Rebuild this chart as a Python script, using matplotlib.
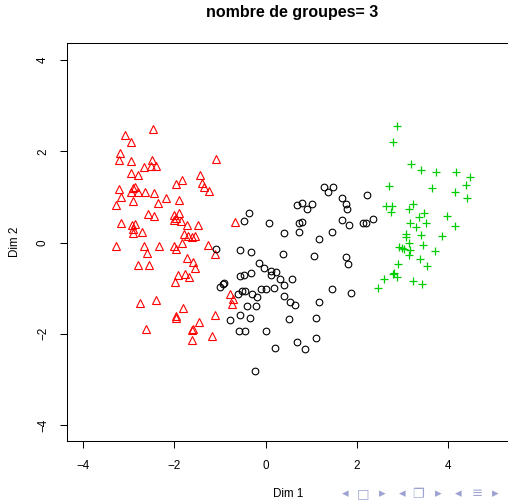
import matplotlib
matplotlib.use("Agg")
import matplotlib.pyplot as plt

plt.rcParams['font.family'] = ['Liberation Sans', 'DejaVu Sans']

# groupe 1 (triangles rouges)
g1_x = [-2.47, -3.09, -2.96, -3.19, -3.21, -2.95, -1.10, -2.49, -2.66, -2.52,
        -2.41, -2.95, -2.81, -1.43, -1.84, -1.97, -1.39, -1.35, -1.24, -3.22,
        -2.92, -2.86, -2.95, -2.79, -2.64, -2.46, -3.17, -2.90, -2.19, -2.37,
        -1.90, -3.29, -2.58, -2.45, -3.17, -2.00, -1.97, -1.90, -2.02, -1.86,
        -1.73, -1.48, -0.67, -2.93, -2.87, -2.92, -2.90, -2.72, -1.79, -1.71,
        -1.62, -1.54, -3.28, -2.67, -2.33, -2.60, -2.00, -1.97, -1.84, -1.26,
        -1.11, -1.73, -1.59, -1.55, -2.81, -2.55, -1.92, -1.77, -1.69, -1.98,
        -0.78, -0.72, -0.73, -2.75, -2.40, -1.82, -1.97, -1.96, -1.11, -1.46,
        -1.59, -1.62, -2.63, -1.18, -1.61]
g1_y = [2.48, 2.36, 2.21, 1.96, 1.81, 1.79, 1.83, 1.81, 1.66, 1.68,
        1.67, 1.52, 1.48, 1.47, 1.37, 1.28, 1.31, 1.22, 1.13, 1.17,
        1.19, 1.22, 1.10, 1.11, 1.11, 1.09, 1.00, 0.90, 0.98, 0.87,
        0.93, 0.82, 0.63, 0.58, 0.43, 0.60, 0.54, 0.65, 0.49, 0.48,
        0.38, 0.38, 0.45, 0.38, 0.41, 0.29, 0.20, 0.22, 0.19, 0.14,
        0.13, 0.15, -0.08, -0.08, -0.08, -0.24, -0.08, -0.14, -0.02, -0.06,
        -0.25, -0.33, -0.42, -0.55, -0.50, -0.49, -0.71, -0.68, -0.75, -0.86,
        -1.14, -1.24, -1.35, -1.33, -1.26, -1.44, -1.61, -1.65, -1.58, -1.75,
        -1.90, -1.92, -1.90, -2.04, -2.14]

# groupe 2 (cercles noirs)
g2_x = [1.27, 1.36, 1.48, 1.68, 2.23, 0.69, 0.80, 0.91, 1.02, 1.76,
        1.79, -0.36, -0.48, 0.07, 0.74, 0.80, 1.67, 1.83, 2.13, 2.19,
        2.35, 0.40, 0.72, 1.46, 1.17, -1.08, -0.56, -0.32, 0.38, 1.07,
        1.76, 1.80, -0.15, -0.04, 0.12, 0.23, 0.12, -0.56, -0.47, -0.33,
        0.31, 0.57, -1.00, -0.94, -0.91, 0.41, -0.10, 0.00, 0.18, -0.60,
        -0.51, -0.45, -0.31, -0.20, 1.45, 1.86, 0.41, -0.42, -0.21, 0.53,
        0.64, 1.16, -0.56, -0.34, -0.78, 0.51, 1.10, -0.59, -0.45, 0.00,
        0.68, 1.10, 0.21, 0.86, -0.23]
g2_y = [1.22, 1.10, 1.22, 0.97, 1.05, 0.82, 0.87, 0.74, 0.84, 0.84,
        0.73, 0.65, 0.47, 0.43, 0.42, 0.45, 0.49, 0.39, 0.42, 0.42,
        0.52, 0.21, 0.22, 0.22, 0.07, -0.14, -0.16, -0.21, -0.26, -0.30,
        -0.32, -0.47, -0.44, -0.57, -0.62, -0.65, -0.71, -0.74, -0.72, -0.66,
        -0.79, -0.79, -0.98, -0.90, -0.88, -0.93, -1.01, -1.02, -0.99, -1.14,
        -1.06, -1.06, -1.13, -1.20, -1.02, -1.10, -1.17, -1.39, -1.39, -1.31,
        -1.38, -1.31, -1.58, -1.65, -1.70, -1.68, -1.65, -1.95, -1.93, -1.93,
        -2.19, -2.09, -2.32, -2.34, -2.81]

# groupe 3 (croix vertes)
g3_x = [2.88, 2.79, 3.19, 3.41, 3.74, 4.17, 4.47, 4.40, 4.15, 4.42,
        2.70, 3.65, 2.64, 2.76, 2.75, 3.24, 3.14, 3.48, 3.36, 3.52,
        3.98, 4.15, 3.17, 3.30, 3.40, 3.07, 3.08, 3.87, 3.14, 3.45,
        2.92, 2.99, 3.04, 3.17, 3.14, 3.71, 3.38, 3.53, 2.90, 2.82,
        2.79, 2.87, 2.59, 3.22, 3.43, 2.47]
g3_y = [2.56, 2.21, 1.73, 1.58, 1.54, 1.55, 1.43, 1.27, 1.11, 0.97,
        1.25, 1.20, 0.79, 0.80, 0.66, 0.84, 0.74, 0.64, 0.56, 0.43,
        0.58, 0.36, 0.43, 0.33, 0.16, 0.19, 0.12, 0.14, 0.00, -0.06,
        -0.09, -0.11, -0.15, -0.16, -0.27, -0.19, -0.37, -0.51, -0.48, -0.66,
        -0.68, -0.75, -0.81, -0.84, -0.90, -1.00]

xticks = [-4, -2, 0, 2, 4]
yticks = [-4, -2, 0, 2, 4]

W, H = 508, 501
fig = plt.figure(figsize=(W / 100, H / 100), dpi=100)
ax = fig.add_axes([67 / W, (H - 441) / H, 448 / W, 398 / H])

ax.plot(g1_x, g1_y, linestyle='none', marker='^', markersize=5.8,
        markerfacecolor='none', markeredgecolor='#ff0000', markeredgewidth=0.8)
ax.plot(g2_x, g2_y, linestyle='none', marker='o', markersize=4.8,
        markerfacecolor='none', markeredgecolor='black', markeredgewidth=0.8)
ax.plot(g3_x, g3_y, linestyle='none', marker='+', markersize=6.4,
        markeredgecolor='#00cd00', markeredgewidth=0.9)

ax.set_xlim(-4.357, 5.467)
ax.set_ylim(-4.353, 4.375)
ax.set_xticks(xticks)
ax.set_xticklabels([str(t).replace('-', '\u2212') for t in xticks])
ax.set_yticks(yticks)
ax.set_yticklabels([str(t).replace('-', '\u2212') for t in yticks],
                   rotation=90, va='center')
ax.tick_params(direction='out', length=5, width=0.75, labelsize=8.4,
               top=False, right=False)
ax.tick_params(axis='x', pad=8.5)
ax.tick_params(axis='y', pad=8)
for s in ax.spines.values():
    s.set_linewidth(0.75)

fig.text(292 / W, 1 - 13 / H, 'nombre de groupes= 3', fontsize=11.5,
         fontweight='bold', ha='center', va='center')
fig.text(288 / W, 1 - 494 / H, 'Dim 1', fontsize=8.4, ha='center', va='center')
fig.text(15 / W, 1 - 242 / H, 'Dim 2', fontsize=8.4, ha='center', va='center',
         rotation=90)

# symboles de navigation beamer
nav = ['\u25c2', '\u25a1', '\u25b8', '\u25c2', '\u2750', '\u25b8',
       '\u25c2', '\u2261', '\u25b8']
nav_x = [345, 363, 382, 402, 418, 438, 458, 477, 495]
for sym, nx in zip(nav, nav_x):
    fig.text(nx / W, 1 - 494 / H, sym, fontsize=9.5, color='#9da2d2',
             ha='center', va='center', family='DejaVu Sans')

fig.savefig('out.png', dpi=100)
